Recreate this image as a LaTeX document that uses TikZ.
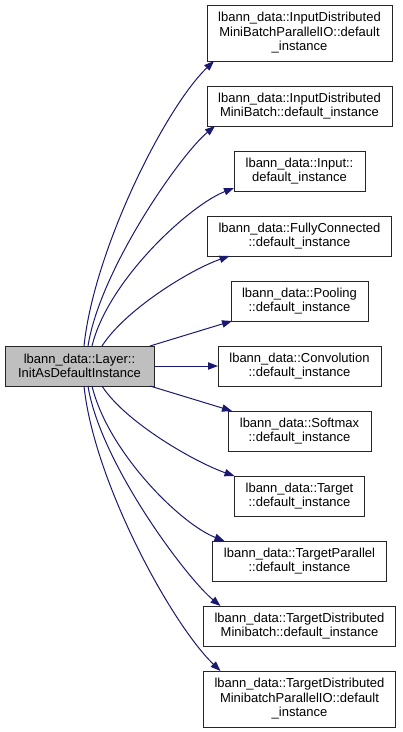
\documentclass[tikz,border=0pt]{standalone}
\usepackage{fontspec}
\setmainfont{Liberation Sans}
\usetikzlibrary{arrows.meta,positioning,calc}
\definecolor{edgeblue}{HTML}{191970}
\definecolor{srcgray}{HTML}{BFBFBF}
\tikzset{
  fnbox/.style={rectangle, draw=black!85, line width=0.75pt, fill=#1, align=center,
                font=\fontsize{9.75}{10.9}\selectfont, inner sep=1pt, outer sep=0pt,
                minimum height=30pt},
  tall/.style={minimum height=42pt},
  call/.style={-{Triangle[length=7.5pt,width=5.5pt]}, line width=0.75pt, draw=edgeblue},
}
\begin{document}
\begin{tikzpicture}[x=0.75pt, y=-0.75pt, node distance=18.75pt]
    \useasboundingbox (0,0) rectangle (403,732);
    \node[fnbox=srcgray, minimum width=111.75pt] (layer) at (79.5,366)
      {lbann\_data::Layer::\\InitAsDefaultInstance};
    \node[fnbox=white, tall, minimum width=138.75pt] (idmbpio) at (299.5,33)
      {lbann\_data::InputDistributed\\MiniBatchParallelIO::default\\\_instance};
    \node[fnbox=white, minimum width=138.75pt, below=of idmbpio] (idmb)
      {lbann\_data::InputDistributed\\MiniBatch::default\_instance};
    \node[fnbox=white, minimum width=98.25pt, below=of idmb] (input)
      {lbann\_data::Input::\\default\_instance};
    \node[fnbox=white, minimum width=138pt, below=of input] (fc)
      {lbann\_data::FullyConnected\\::default\_instance};
    \node[fnbox=white, minimum width=102.75pt, below=of fc] (pool)
      {lbann\_data::Pooling\\::default\_instance};
    \node[fnbox=white, minimum width=122.25pt, below=of pool] (conv)
      {lbann\_data::Convolution\\::default\_instance};
    \node[fnbox=white, minimum width=107.25pt, below=of conv] (softmax)
      {lbann\_data::Softmax\\::default\_instance};
    \node[fnbox=white, minimum width=97.5pt, below=of softmax] (target)
      {lbann\_data::Target\\::default\_instance};
    \node[fnbox=white, minimum width=130.5pt, below=of target] (tpar)
      {lbann\_data::TargetParallel\\::default\_instance};
    \node[fnbox=white, minimum width=144pt, below=of tpar] (tdmb)
      {lbann\_data::TargetDistributed\\Minibatch::default\_instance};
    \node[fnbox=white, tall, minimum width=144pt, below=of tdmb] (tdmbpio)
      {lbann\_data::TargetDistributed\\MinibatchParallelIO::default\\\_instance};
    \draw[call] ($(layer.north)+(4.5,0)$) .. controls +(10,-96) and +(-49,47) .. ($(idmbpio.south west)+(7,0)$);
    \draw[call] ($(layer.north)+(8.5,0)$) .. controls +(12,-76) and +(-35,29) .. ($(idmb.south west)+(8,0)$);
    \draw[call] ($(layer.north)+(12.5,0)$) .. controls +(16,-66) and +(-44,17) .. ($(input.south west)+(0,-3)$);
    \draw[call] ($(layer.north)+(22.5,0)$) .. controls +(23,-36) and +(-40,14) .. ($(fc.south west)+(22,0)$);
    \draw[call] ($(layer.north east)+(-4,0)$) -- ($(pool.south west)+(1,0)$);
    \draw[call] (layer) -- (conv);
    \draw[call] ($(layer.south east)+(-4,0)$) -- ($(softmax.north west)+(4,0)$);
    \draw[call] ($(layer.south)+(22.5,0)$) .. controls +(23,36) and +(-40,-14) .. (target.north west);
    \draw[call] ($(layer.south)+(12.5,0)$) .. controls +(16,66) and +(-44,-17) .. ($(tpar.north west)+(12,0)$);
    \draw[call] ($(layer.south)+(8.5,0)$) .. controls +(12,76) and +(-35,-29) .. ($(tdmb.north west)+(17,0)$);
    \draw[call] ($(layer.south)+(4.5,0)$) .. controls +(10,96) and +(-49,-47) .. ($(tdmbpio.north west)+(17,0)$);
  \end{tikzpicture}
\end{document}
